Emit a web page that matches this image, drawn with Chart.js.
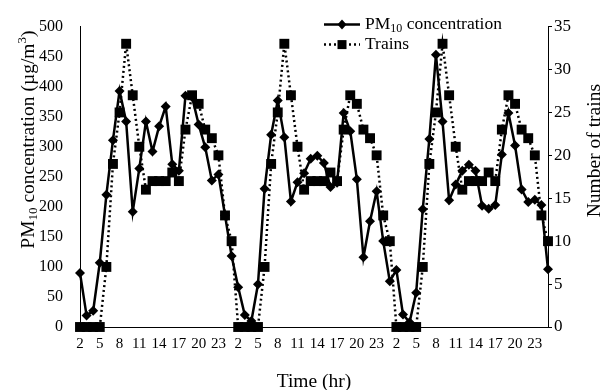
<!DOCTYPE html>
<html><head><meta charset="utf-8">
<script src="https://cdn.jsdelivr.net/npm/chart.js@4/dist/chart.umd.min.js"></script>
<style>html,body{margin:0;padding:0;background:#fff}#wrap{width:605px;height:390px;position:relative}</style>
</head><body><div id="wrap"><canvas id="c" width="605" height="390"></canvas></div>
<script>
// Hour of day for each of the 72 hourly categories (three days)
const hours = [2,3,4,5,6,7,8,9,10,11,12,13,14,15,16,17,18,19,20,21,22,23,24,1,
               2,3,4,5,6,7,8,9,10,11,12,13,14,15,16,17,18,19,20,21,22,23,24,1,
               2,3,4,5,6,7,8,9,10,11,12,13,14,15,16,17,18,19,20,21,22,23,24,1];
// PM10 concentration (µg/m3)
const pm10 = [90,19,27,107,220,311,393,342,192,264,342,292,334,367,271,260,385,383,337,299,244,254,186,118,
              66,20,10,71,230,320,377,316,209,241,256,280,285,273,233,240,356,326,246,116,176,226,143,76,
              95,21,8,57,196,313,453,342,211,237,260,270,260,202,197,203,287,356,302,229,208,212,203,96];
// Number of trains
const trains = [0,0,0,0,7,19,25,33,27,21,16,17,17,17,18,17,23,27,26,23,22,20,13,10,
                0,0,0,0,7,19,25,33,27,21,16,17,17,17,18,17,23,27,26,23,22,20,13,10,
                0,0,0,0,7,19,25,33,27,21,16,17,17,17,18,17,23,27,26,23,22,20,13,10];
const xLabelEvery = 3;
const pmAxis = {min: 0, max: 500, step: 50};
const trainAxis = {min: 0, max: 35, step: 5};

const SERIF = '"Liberation Serif", "DejaVu Serif", serif';

function richWidth(ctx, parts, size) {
  let w = 0;
  for (const p of parts) {
    ctx.font = ((p.sub || p.sup) ? Math.round(size * 0.68) : size) + 'px ' + SERIF;
    w += ctx.measureText(p.t).width;
  }
  return w;
}
function drawRich(ctx, parts, x, y, size) {
  let cx = x;
  for (const p of parts) {
    const small = p.sub || p.sup;
    ctx.font = (small ? Math.round(size * 0.68) : size) + 'px ' + SERIF;
    const dy = p.sub ? size * 0.25 : (p.sup ? -size * 0.35 : 0);
    ctx.fillText(p.t, cx, y + dy);
    cx += ctx.measureText(p.t).width;
  }
}

const titles = {
  y: [{t:'PM'},{t:'10',sub:true},{t:' concentration (µg/m'},{t:'3',sup:true},{t:')'}],
  y1: [{t:'Number of trains'}],
  x: [{t:'Time (hr)'}]
};
const legendItems = [
  {parts:[{t:'PM'},{t:'10',sub:true},{t:' concentration'}], dash:[], marker:'diamond'},
  {parts:[{t:'Trains'}], dash:[2,3], marker:'square'}
];

const decor = {
  id: 'decor',
  afterDraw(chart) {
    const ctx = chart.ctx, a = chart.chartArea;
    ctx.save();
    ctx.fillStyle = '#000'; ctx.strokeStyle = '#000';
    ctx.textBaseline = 'middle';
    const fs = 17.5, ts = 19.5;
    // left title
    let w = richWidth(ctx, titles.y, ts);
    ctx.save(); ctx.translate(a.left - 51, a.top + 113); ctx.rotate(-Math.PI/2);
    drawRich(ctx, titles.y, -w/2, 0, ts); ctx.restore();
    // right title
    w = richWidth(ctx, titles.y1, ts);
    ctx.save(); ctx.translate(a.right + 47, a.top + 124); ctx.rotate(-Math.PI/2);
    drawRich(ctx, titles.y1, -w/2, 0, ts); ctx.restore();
    // x title
    w = richWidth(ctx, titles.x, ts);
    drawRich(ctx, titles.x, (a.left + a.right)/2 - w/2, a.bottom + 55, ts);
    // legend
    const lx0 = a.left + 244, lx1 = a.left + 280, tx = a.left + 285;
    legendItems.forEach((it, k) => {
      const y = a.top - 2 + k * 20;
      ctx.lineWidth = 2.5; ctx.setLineDash(it.dash);
      ctx.beginPath(); ctx.moveTo(lx0, y); ctx.lineTo(lx1, y); ctx.stroke();
      ctx.setLineDash([]);
      const mx = (lx0 + lx1)/2;
      ctx.beginPath();
      if (it.marker === 'diamond') {
        ctx.moveTo(mx, y-5); ctx.lineTo(mx+4.5, y); ctx.lineTo(mx, y+5); ctx.lineTo(mx-4.5, y); ctx.closePath();
      } else {
        ctx.rect(mx-4.5, y-4.5, 9, 9);
      }
      ctx.fill();
      drawRich(ctx, it.parts, tx, y, fs);
    });
    ctx.restore();
  }
};

new Chart(document.getElementById('c'), {
  type: 'line',
  data: {
    labels: hours,
    datasets: [
      {label:'PM10 concentration', data: pm10, yAxisID:'y', borderColor:'#000', backgroundColor:'#000',
       borderWidth:2.5, pointStyle:'rectRot', pointRadius:5, pointBackgroundColor:'#000', pointBorderColor:'#000',
       pointBorderWidth:0, tension:0, clip:false, order:2},
      {label:'Trains', data: trains, yAxisID:'y1', borderColor:'#000', backgroundColor:'#000',
       borderWidth:2.5, borderDash:[2,3], pointStyle:'rect', pointRadius:7, pointBackgroundColor:'#000', pointBorderColor:'#000',
       pointBorderWidth:0, tension:0, clip:false, order:1}
    ]
  },
  options: {
    responsive:false, animation:false, devicePixelRatio:1,
    layout:{padding:{top:22, left:0, right:0, bottom:0}},
    plugins:{legend:{display:false}, tooltip:{enabled:false}},
    scales:{
      x:{type:'category', offset:false,
         grid:{display:false, drawTicks:false},
         border:{display:true, color:'#000', width:1},
         ticks:{autoSkip:false, maxRotation:0, minRotation:0, padding:8, color:'#000',
                font:{family:SERIF, size:15},
                callback:(v,i)=> (i % xLabelEvery === 0) ? String(hours[i]) : ''},
         afterFit:s=>{s.height=63;}},
      y:{position:'left', min:pmAxis.min, max:pmAxis.max,
         grid:{display:false, drawTicks:false},
         border:{display:true, color:'#000', width:1},
         ticks:{stepSize:pmAxis.step, padding:17, color:'#000', font:{family:SERIF, size:16}},
         afterFit:s=>{s.width=80;}},
      y1:{position:'right', min:trainAxis.min, max:trainAxis.max,
         grid:{display:true, drawOnChartArea:false, drawTicks:true, tickLength:4, color:'#000'},
         border:{display:true, color:'#000', width:1},
         ticks:{stepSize:trainAxis.step, padding:2, color:'#000', font:{family:SERIF, size:17}},
         afterFit:s=>{s.width=57;}}
    }
  },
  plugins:[decor]
});
</script></body></html>
